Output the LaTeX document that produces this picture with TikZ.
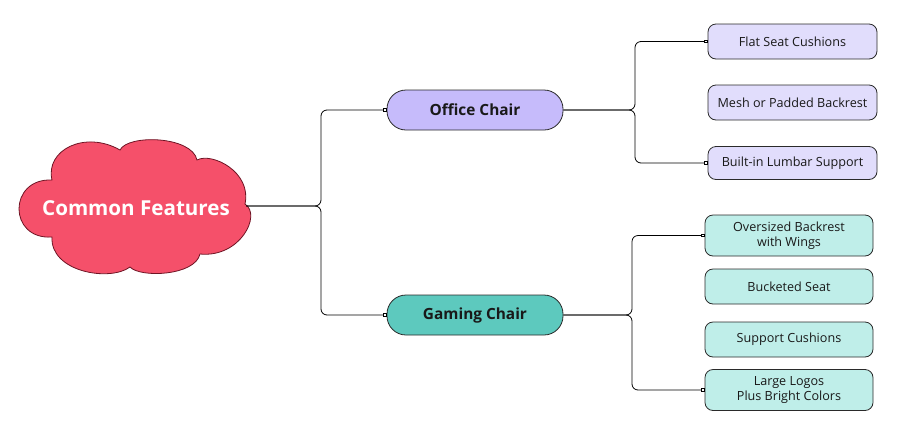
\documentclass[tikz,border=0pt]{standalone}
\usepackage{fontspec}
\setmainfont{Open Sans}
\usetikzlibrary{arrows.meta}
\definecolor{cloudfill}{HTML}{F5506A}
\definecolor{cloudline}{HTML}{6E1424}
\definecolor{officefill}{HTML}{C6BBFB}
\definecolor{gamingfill}{HTML}{5DC9BE}
\definecolor{officeitem}{HTML}{E1DDFC}
\definecolor{gamingitem}{HTML}{BFEEE9}
\definecolor{edge}{HTML}{2A2A2A}
\tikzset{
  cloudshape/.style={fill=cloudfill, draw=cloudline, line width=0.8pt},
  cloudtext/.style={inner sep=0pt, text=white, font=\fontsize{20.6}{24}\selectfont\bfseries},
  mainbox/.style={draw=edge, line width=0.8pt, rounded corners=19pt,
    minimum width=176pt, minimum height=40pt, inner sep=0pt,
    font=\fontsize{15.4}{18}\selectfont\bfseries, text=black!90},
  itembox/.style={draw=edge, line width=0.8pt, rounded corners=8pt,
    minimum width=169pt, inner sep=0pt, align=center,
    font=\fontsize{12.6}{15}\selectfont, text=black!90},
  conn/.style={draw=black, line width=0.8pt, rounded corners=6pt,
    -{Square[open,length=3.5pt,width=3.5pt,fill=white]}}
}
\begin{document}
\begin{tikzpicture}[x=1pt,y=-1pt]
\useasboundingbox (0,0) rectangle (911,432);
% cloud outline
\path[cloudshape] (52,237)
  .. controls (8,240) and (8,178) .. (52,180)
  .. controls (45,150) and (85,130) .. (120,150)
  .. controls (128,134) and (192,136) .. (197,160)
  .. controls (212,152) and (252,172) .. (245,204)
  .. controls (262,215) and (240,258) .. (200,254)
  .. controls (195,276) and (140,278) .. (130,267)
  .. controls (110,282) and (50,272) .. (52,237) -- cycle;
\node[cloudtext] (cloud) at (136,208) {Common Features};
\coordinate (cloudout) at (246,206);

\node[mainbox, fill=officefill] (office) at (475,110) {Office Chair};
\node[mainbox, fill=gamingfill] (gaming) at (475,315) {Gaming Chair};

\node[itembox, fill=officeitem, minimum height=35pt] (flat) at (792.5,41.5) {Flat Seat Cushions};
\node[itembox, fill=officeitem, minimum height=35pt] (mesh) at (792.5,102.5) {Mesh or Padded Backrest};
\node[itembox, fill=officeitem, minimum height=33pt] (lumbar) at (792.5,163) {Built-in Lumbar Support};

\node[itembox, fill=gamingitem, minimum height=41pt, minimum width=168pt] (over) at (789,235.5) {Oversized Backrest\\with Wings};
\node[itembox, fill=gamingitem, minimum height=35pt, minimum width=168pt] (bucket) at (789,286.5) {Bucketed Seat};
\node[itembox, fill=gamingitem, minimum height=35pt, minimum width=168pt] (support) at (789,339.5) {Support Cushions};
\node[itembox, fill=gamingitem, minimum height=41pt, minimum width=168pt] (logos) at (789,390) {Large Logos\\Plus Bright Colors};

\coordinate (j1) at (321,206);
\coordinate (j2) at (635,110);
\coordinate (j3) at (632,315);

\draw[conn] (cloudout) -- (j1) |- (office.west);
\draw[conn] (cloudout) -- (j1) |- (gaming.west);
\draw[conn] (office.east) -- (j2) |- (flat.west);
\draw[conn] (office.east) -- (j2) |- (lumbar.west);
\draw[conn] (gaming.east) -- (j3) |- (over.west);
\draw[conn] (gaming.east) -- (j3) |- (logos.west);
\end{tikzpicture}
\end{document}
